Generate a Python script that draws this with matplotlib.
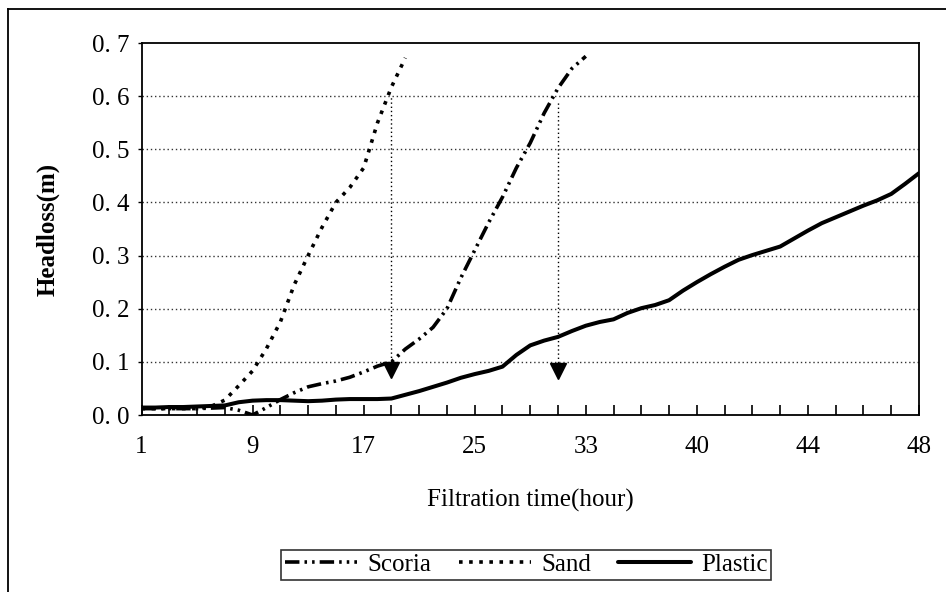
import matplotlib
matplotlib.use("Agg")
import matplotlib.pyplot as plt
import numpy as np
from matplotlib.lines import Line2D

plt.rcParams['font.family'] = ['Liberation Serif', 'DejaVu Serif']

# ---- data (category index = half-tick step; labels every 8th category) ----
hour_labels = ['1', '9', '17', '25', '33', '40', '44', '48']
n_categories = 57

plastic = [0.014, 0.014, 0.015, 0.015, 0.016, 0.017, 0.018, 0.024, 0.027, 0.028,
           0.028, 0.027, 0.026, 0.027, 0.029, 0.030, 0.030, 0.030, 0.031, 0.038,
           0.045, 0.053, 0.061, 0.070, 0.077, 0.083, 0.091, 0.113, 0.131, 0.140,
           0.147, 0.158, 0.168, 0.175, 0.180, 0.192, 0.201, 0.207, 0.216, 0.234,
           0.250, 0.265, 0.279, 0.292, 0.301, 0.309, 0.317, 0.332, 0.347, 0.361,
           0.372, 0.383, 0.394, 0.404, 0.416, 0.435, 0.455]

sand = [0.012, 0.012, 0.012, 0.012, 0.012, 0.016, 0.028, 0.055, 0.083, 0.125,
        0.175, 0.245, 0.300, 0.353, 0.400, 0.428, 0.465, 0.550, 0.617, 0.672]

scoria = [0.012, 0.012, 0.012, 0.012, 0.012, 0.013, 0.014, 0.009, 0.000, 0.014,
          0.029, 0.042, 0.053, 0.059, 0.064, 0.071, 0.081, 0.092, 0.100, 0.124,
          0.143, 0.165, 0.200, 0.258, 0.310, 0.362, 0.410, 0.465, 0.512, 0.568,
          0.615, 0.652, 0.675]

y_ticks = [0.0, 0.1, 0.2, 0.3, 0.4, 0.5, 0.6, 0.7]
y_tick_labels = ['0. 0', '0. 1', '0. 2', '0. 3', '0. 4', '0. 5', '0. 6', '0. 7']

# markers where headloss reaches 0.6 m
arrow_cats = [18, 30]
arrow_tops = [0.600, 0.590]
arrow_heads = [0.085, 0.083]

# ---- figure ----
fig = plt.figure(figsize=(9.46, 5.92), dpi=100)
ax = fig.add_axes([141.5 / 946, 1 - 415 / 592, (919 - 141.5) / 946, (415 - 43) / 592])

ax.plot(np.arange(len(scoria)), scoria, color='black', lw=2.6,
        linestyle=(0, (4.0, 1.4, 0.7, 1.4, 0.7, 1.4)), label='Scoria')
ax.plot(np.arange(len(sand)), sand, color='black', lw=2.6,
        linestyle=(0, (1.0, 1.8)), label='Sand')
ax.plot(np.arange(len(plastic)), plastic, color='black', lw=2.9,
        linestyle='-', label='Plastic', solid_capstyle='round')

for c, top, head in zip(arrow_cats, arrow_tops, arrow_heads):
    ax.plot([c, c], [head, top], color='black', lw=1.0, linestyle=(0, (1, 2)))
    ax.plot([c], [head], marker='v', color='black', markersize=11, linestyle='none')

ax.set_xlim(0, n_categories - 1)
ax.set_ylim(0, 0.7)

ax.set_yticks(y_ticks)
ax.set_yticklabels(y_tick_labels)
ax.set_xticks(np.arange(0, n_categories, 8))
ax.set_xticklabels(hour_labels)
ax.set_xticks(np.arange(0, n_categories, 2), minor=True)

ax.tick_params(axis='x', which='both', direction='in', length=7, width=1.2,
               labelsize=18, pad=15)
ax.tick_params(axis='y', which='major', direction='out', length=3, width=1.0,
               labelsize=18, pad=6)

for y in y_ticks[1:-1]:
    ax.axhline(y, color='#333333', lw=1.0, linestyle=(0, (1, 2)), zorder=0)

for s in ax.spines.values():
    s.set_linewidth(1.3)
    s.set_color('black')

ax.set_xlabel('Filtration time(hour)', fontsize=18)
ax.xaxis.set_label_coords(0.5, -0.20)
ax.set_ylabel('Headloss(m)', fontsize=18, fontweight='bold')
ax.yaxis.set_label_coords(-0.105, 0.5)

leg = ax.legend(loc='center', bbox_to_anchor=(526 / 946, 1 - 564.5 / 592),
                bbox_transform=fig.transFigure, ncol=3, frameon=True,
                fontsize=18, handlelength=2.9, handletextpad=0.4,
                columnspacing=1.1, borderpad=0.15, borderaxespad=0,
                fancybox=False)
leg.get_frame().set_edgecolor('black')
leg.get_frame().set_linewidth(1.2)

# outer chart border (left and top visible)
fig.add_artist(Line2D([8 / 946, 8 / 946], [0, 1 - 9 / 592], color='black', lw=1.3,
                      transform=fig.transFigure))
fig.add_artist(Line2D([8 / 946, 1], [1 - 9 / 592, 1 - 9 / 592], color='black', lw=1.3,
                      transform=fig.transFigure))

fig.savefig('out.png', dpi=100)
